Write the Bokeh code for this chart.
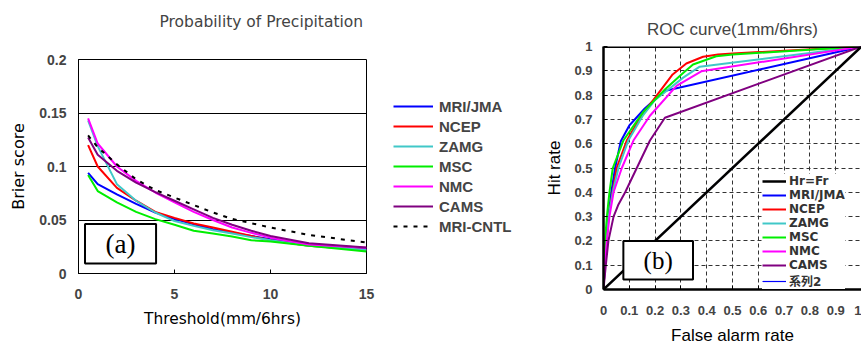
from bokeh.plotting import figure
from bokeh.layouts import row, gridplot
from bokeh.models import Legend, LegendItem, BoxAnnotation, Label, Span, FixedTicker, Title
from bokeh.embed import file_html
from bokeh.resources import INLINE

# ---------------- Panel (a): Brier score vs threshold ----------------
threshold = [0.5, 1, 2, 3, 4, 5, 6, 7, 8, 9, 10, 12, 15]
bs_mri_jma = [0.094, 0.0835, 0.074, 0.065, 0.057, 0.0508, 0.046, 0.0414, 0.038, 0.035, 0.032, 0.0274, 0.0227]
bs_ncep = [0.120, 0.100, 0.080, 0.068, 0.0576, 0.052, 0.0467, 0.043, 0.039, 0.035, 0.031, 0.026, 0.022]
bs_zamg = [0.143, 0.119, 0.0835, 0.068, 0.057, 0.049, 0.0445, 0.0405, 0.0374, 0.034, 0.031, 0.026, 0.022]
bs_msc = [0.092, 0.077, 0.0664, 0.0576, 0.0508, 0.0455, 0.040, 0.0374, 0.0346, 0.031, 0.030, 0.0259, 0.0206]
bs_nmc = [0.145, 0.1215, 0.100, 0.0866, 0.0757, 0.0664, 0.0576, 0.050, 0.043, 0.038, 0.0335, 0.027, 0.024]
bs_cams = [0.127, 0.111, 0.096, 0.085, 0.076, 0.068, 0.060, 0.052, 0.0455, 0.040, 0.035, 0.0283, 0.0243]
bs_mri_cntl = [0.129, 0.118, 0.102, 0.088, 0.078, 0.071, 0.064, 0.057, 0.051, 0.047, 0.043, 0.036, 0.029]

bs_yticks = [0, 0.05, 0.1, 0.15, 0.2]
bs_ylabels = ["0", "0.05", "0.1", "0.15", "0.2"]
bs_xticks = [0, 5, 10, 15]

# ---------------- Panel (b): ROC curve ----------------
far_mri_jma = [0, 0.01, 0.019, 0.03, 0.045, 0.067, 0.1, 0.16, 0.236, 1]
hr_mri_jma = [0, 0.2, 0.3, 0.4, 0.5, 0.61, 0.675, 0.745, 0.817, 1]
far_ncep = [0, 0.008, 0.02, 0.035, 0.051, 0.09, 0.15, 0.2, 0.268, 0.321, 0.386, 0.444, 0.5, 1]
hr_ncep = [0, 0.15, 0.3, 0.4, 0.5, 0.613, 0.72, 0.79, 0.885, 0.93, 0.958, 0.967, 0.971, 1]
far_zamg = [0, 0.008, 0.02, 0.036, 0.058, 0.096, 0.154, 0.2, 0.309, 0.373, 1]
hr_zamg = [0, 0.15, 0.3, 0.4, 0.5, 0.613, 0.718, 0.78, 0.872, 0.917, 1]
far_msc = [0, 0.006, 0.013, 0.023, 0.036, 0.077, 0.154, 0.238, 0.302, 0.347, 0.437, 0.501, 1]
hr_msc = [0, 0.2, 0.3, 0.4, 0.5, 0.613, 0.731, 0.823, 0.885, 0.926, 0.96, 0.967, 1]
far_nmc = [0, 0.005, 0.013, 0.023, 0.039, 0.071, 0.116, 0.18, 0.283, 0.379, 1]
hr_nmc = [0, 0.1, 0.2, 0.3, 0.4, 0.5, 0.613, 0.715, 0.838, 0.898, 1]
far_cams = [0, 0.009, 0.019, 0.039, 0.058, 0.084, 0.129, 0.18, 0.238, 1]
hr_cams = [0, 0.1, 0.2, 0.3, 0.35, 0.4, 0.5, 0.613, 0.707, 1]
far_diag = [0, 1]
hr_diag = [0, 1]
far_series2 = [0, 1]
hr_series2 = [0, 1]

roc_ticks = [0, 0.1, 0.2, 0.3, 0.4, 0.5, 0.6, 0.7, 0.8, 0.9, 1]
roc_labels = ["0", "0.1", "0.2", "0.3", "0.4", "0.5", "0.6", "0.7", "0.8", "0.9", "1"]
roc_grid = [0.1, 0.2, 0.3, 0.4, 0.5, 0.6, 0.7, 0.8, 0.9]

BLUE = "#0000FF"
RED = "#FF0000"
CYAN = "#40C8C8"
GREEN = "#00EE00"
MAGENTA = "#FF00FF"
PURPLE = "#800080"

series_a = [
    ("MRI/JMA", bs_mri_jma, BLUE, "solid"),
    ("NCEP", bs_ncep, RED, "solid"),
    ("ZAMG", bs_zamg, CYAN, "solid"),
    ("MSC", bs_msc, GREEN, "solid"),
    ("NMC", bs_nmc, MAGENTA, "solid"),
    ("CAMS", bs_cams, PURPLE, "solid"),
    ("MRI-CNTL", bs_mri_cntl, "black", "4 6"),
]

# ================= Figure (a) =================
p1 = figure(width=380, height=347, x_range=(0, 15), y_range=(0, 0.2),
            output_backend="svg", toolbar_location=None,
            min_border_left=78, min_border_right=14, min_border_top=59, min_border_bottom=74)
p1.title.text = ""
p1.title.standoff = 0
p1.add_layout(Title(text=" ", text_font_size="24px", standoff=0), "above")
p1.add_layout(Title(text="Probability of Precipitation", align="left", offset=81,
                    text_font="DejaVu Sans", text_font_style="normal", text_font_size="15.5px",
                    standoff=0), "above")

p1.outline_line_color = "black"
p1.outline_line_width = 1
p1.xgrid.visible = False
p1.ygrid.ticker = FixedTicker(ticks=[0.05, 0.1, 0.15])
p1.ygrid.grid_line_color = "black"
p1.ygrid.grid_line_width = 1

for ax in (p1.xaxis[0], p1.yaxis[0]):
    ax.major_label_text_font = "Liberation Sans"
    ax.major_label_text_font_style = "bold"
    ax.major_label_text_font_size = "14px"
    ax.axis_label_text_font = "DejaVu Sans"
    ax.axis_label_text_font_style = "normal"
    ax.axis_label_text_color = "black"
    ax.major_tick_in = 4
    ax.major_tick_out = 0
    ax.minor_tick_in = 0
    ax.minor_tick_out = 0
    ax.axis_line_color = "black"

p1.xaxis.ticker = FixedTicker(ticks=bs_xticks)
p1.xaxis.axis_label = "Threshold(mm/6hrs)"
p1.xaxis.axis_label_text_font_size = "15.4px"
p1.xaxis.major_label_standoff = 15
p1.xaxis.axis_label_standoff = 8
p1.yaxis.ticker = FixedTicker(ticks=bs_yticks)
p1.yaxis.major_label_overrides = dict(zip(bs_yticks, bs_ylabels))
p1.yaxis.axis_label = "Brier score"
p1.yaxis.axis_label_text_font_size = "16px"
p1.yaxis.major_label_standoff = 12
p1.yaxis.axis_label_standoff = 8

for name, vals, col, dash in series_a:
    p1.line(threshold, vals, line_color=col, line_width=2, line_dash=dash)

p1.add_layout(BoxAnnotation(left=0.34, right=4.04, bottom=0.0093, top=0.0462,
                            fill_color="white", fill_alpha=1, line_color="black",
                            line_alpha=1, line_width=2))
p1.add_layout(Label(x=2.19, y=0.0278, text="(a)", text_align="center", text_baseline="middle",
                    text_font="Liberation Serif", text_font_size="27px", text_color="black"))

# ---- legend strip for panel (a): same series, drawn outside its view ----
pl = figure(width=160, height=347, x_range=(100, 101), y_range=(100, 101),
            output_backend="svg", toolbar_location=None,
            min_border_left=0, min_border_right=0, min_border_top=0, min_border_bottom=0)
pl.axis.visible = False
pl.grid.visible = False
pl.outline_line_color = None
pl.title.text = ""
items_a = []
for name, vals, col, dash in series_a:
    r = pl.line(threshold, vals, line_color=col, line_width=2, line_dash=dash)
    items_a.append(LegendItem(label=name, renderers=[r]))
leg_a = Legend(items=items_a, location=(13, 111), border_line_color=None,
               background_fill_alpha=0, padding=0, margin=0,
               glyph_width=40, glyph_height=20, label_height=20, spacing=0,
               label_standoff=6, label_text_font="Liberation Sans",
               label_text_font_style="bold", label_text_font_size="15px")
pl.add_layout(leg_a)

# ================= Figure (b) =================
p2 = figure(width=321, height=347, x_range=(0, 1), y_range=(0, 1),
            output_backend="svg", toolbar_location=None,
            min_border_left=63, min_border_right=0, min_border_top=46, min_border_bottom=58)
p2.title.text = ""
p2.title.standoff = 0
p2.add_layout(Title(text=" ", text_font_size="5px", standoff=0), "above")
p2.add_layout(Title(text="ROC curve(1mm/6hrs)", align="center", offset=-6,
                    text_font="Liberation Sans", text_font_style="normal", text_font_size="17px",
                    standoff=0), "above")
p2.outline_line_color = None

for g in (p2.xgrid[0], p2.ygrid[0]):
    g.ticker = FixedTicker(ticks=roc_grid)
    g.grid_line_color = "#333333"
    g.grid_line_dash = "4 3"
    g.grid_line_width = 1

for ax in (p2.xaxis[0], p2.yaxis[0]):
    ax.ticker = FixedTicker(ticks=roc_ticks)
    ax.major_label_overrides = dict(zip(roc_ticks, roc_labels))
    ax.major_label_text_font = "Liberation Sans"
    ax.major_label_text_font_style = "bold"
    ax.major_label_text_font_size = "13px"
    ax.axis_label_text_font = "Liberation Sans"
    ax.axis_label_text_font_style = "normal"
    ax.axis_label_text_font_size = "17px"
    ax.axis_label_text_color = "black"
    ax.major_tick_in = 4
    ax.major_tick_out = 0
    ax.minor_tick_in = 0
    ax.minor_tick_out = 0
    ax.axis_line_color = "black"
    ax.axis_line_width = 2.5

p2.xaxis.axis_label = "False alarm rate"
p2.xaxis.major_label_standoff = 16
p2.xaxis.axis_label_standoff = 8
p2.yaxis.axis_label = "Hit rate"
p2.yaxis.major_label_standoff = 11
p2.yaxis.axis_label_standoff = 7

p2.add_layout(Span(location=1, dimension="width", line_color="black", line_width=3))

series_b = [
    ("MRI/JMA", far_mri_jma, hr_mri_jma, BLUE, 2),
    ("NCEP", far_ncep, hr_ncep, RED, 2),
    ("ZAMG", far_zamg, hr_zamg, CYAN, 2),
    ("MSC", far_msc, hr_msc, GREEN, 2),
    ("NMC", far_nmc, hr_nmc, MAGENTA, 2),
    ("CAMS", far_cams, hr_cams, PURPLE, 2),
]
r_s2 = p2.line(far_series2, hr_series2, line_color=BLUE, line_width=1.2)
rend_b = {}
for name, fx, hy, col, lw in series_b:
    rend_b[name] = p2.line(fx, hy, line_color=col, line_width=lw)
r_diag = p2.line(far_diag, hr_diag, line_color="black", line_width=2.5)

items_b = [LegendItem(label="Hr=Fr", renderers=[r_diag])]
items_b += [LegendItem(label=name, renderers=[rend_b[name]]) for name, *_ in series_b]
items_b.append(LegendItem(label="系列2", renderers=[r_s2]))

leg_b = Legend(items=items_b, location=(159, 0), border_line_color=None,
               background_fill_color="white", background_fill_alpha=1, padding=8, margin=0,
               glyph_width=24, glyph_height=14, label_height=14, spacing=0,
               label_standoff=3, label_text_font="DejaVu Sans, Noto Sans CJK JP",
               label_text_font_style="bold", label_text_font_size="12px",
               label_text_color="#333333")
p2.add_layout(leg_b)

p2.add_layout(BoxAnnotation(left=0.077, right=0.347, bottom=0.041, top=0.2,
                            fill_color="white", fill_alpha=1, line_color="black",
                            line_alpha=1, line_width=2))
p2.add_layout(Label(x=0.212, y=0.12, text="(b)", text_align="center", text_baseline="middle",
                    text_font="Liberation Serif", text_font_size="25px", text_color="black"))

g1 = gridplot([[p1]], toolbar_location=None)
gl = gridplot([[pl]], toolbar_location=None)
g2 = gridplot([[p2]], toolbar_location=None)
layout = row(g1, gl, g2)
open("out.html", "w").write(file_html(layout, INLINE))
